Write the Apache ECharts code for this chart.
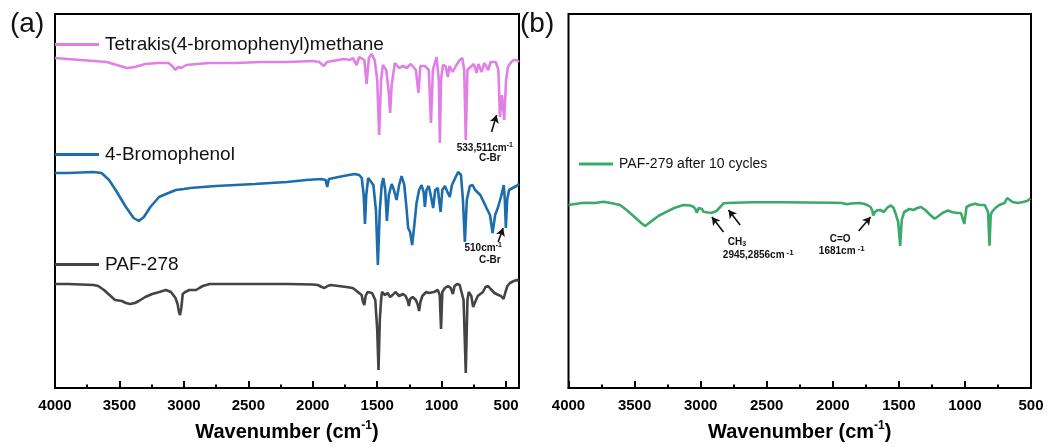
<!DOCTYPE html>
<html>
<head>
<meta charset="utf-8">
<script src="https://cdn.jsdelivr.net/npm/echarts@6/dist/echarts.min.js"></script>
<style>
html,body{margin:0;padding:0;background:#fff;}
#chart{width:1048px;height:447px;}
</style>
</head>
<body>
<div id="chart"></div>
<script>
// ---- data: [wavenumber (cm-1), transmittance (a.u., offset)] ----
const tetrakis = [[4000,330],[3900,329],[3800,328],[3700,327],[3600,326],[3520,323],[3442,320],[3380,321],[3300,324],[3200,325],[3120,325],[3090,322],[3067,318],[3045,321],[3020,320],[2980,323],[2900,324],[2800,325],[2600,325],[2400,326],[2200,326],[2000,327],[1950,326],[1914,322],[1890,326],[1850,327],[1800,328],[1760,329],[1712,328],[1690,330],[1660,323],[1640,331],[1600,328],[1582,304],[1565,330],[1543,334],[1520,328],[1500,308],[1485,253],[1470,308],[1456,323],[1430,318],[1412,298],[1400,275],[1388,303],[1363,325],[1330,320],[1300,322],[1270,320],[1240,324],[1200,318],[1180,295],[1165,322],[1130,322],[1100,318],[1083,265],[1068,318],[1040,331],[1030,333],[1022,308],[1014,245],[1005,308],[990,323],[970,322],[952,311],[940,322],[915,316],[890,322],[860,328],[840,330],[825,318],[813,248],[800,318],[776,321],[750,324],[729,315],[715,324],[690,316],[670,325],[639,318],[620,326],[580,326],[560,318],[548,271],[532,293],[515,268],[500,308],[486,321],[460,326],[440,328],[420,328],[400,326]];
const bromophenol = [[4000,215],[3900,215],[3800,215.5],[3700,216],[3639,215],[3580,208],[3520,196],[3450,181],[3390,170],[3350,167],[3310,171],[3260,181],[3193,191],[3120,195],[3062,198],[3000,199],[2950,200],[2853,201],[2750,202],[2600,203],[2450,204],[2328,205],[2200,206],[2050,208],[1935,209],[1900,208],[1888,201],[1875,209],[1800,211],[1720,213],[1673,214],[1640,213],[1620,210],[1605,193],[1595,164],[1585,193],[1570,210],[1555,212],[1530,203],[1510,178],[1495,123],[1480,178],[1465,203],[1453,210],[1438,198],[1425,167],[1410,193],[1388,204],[1370,198],[1350,188],[1330,203],[1311,212],[1290,203],[1275,183],[1260,160],[1245,156],[1229,143],[1212,163],[1195,185],[1175,198],[1156,203],[1140,196],[1130,181],[1118,198],[1100,202],[1085,193],[1066,180],[1050,198],[1030,200],[1020,188],[1008,176],[995,198],[975,202],[955,196],[937,191],[920,203],[895,210],[872,216],[850,213],[835,188],[820,146],[805,188],[781,202],[760,203],[740,198],[700,193],[652,180],[625,173],[605,155],[585,173],[562,181],[540,191],[518,203],[510,188],[502,160],[492,188],[477,198],[450,200],[420,202],[400,204]];
const paf278 = [[4000,104],[3900,104],[3800,103.5],[3700,103],[3665,102],[3620,98],[3586,94],[3534,88],[3481,87],[3450,85],[3416,84],[3380,85],[3350,87],[3300,91],[3246,94],[3190,96],[3140,98],[3100,96],[3088,94],[3065,90],[3049,84],[3038,76],[3030,73],[3020,80],[3009,94],[2990,96],[2957,98],[2905,98],[2880,100],[2853,102],[2800,104],[2600,104],[2400,104],[2200,104],[2000,103.5],[1961,103],[1930,101],[1909,100],[1885,102],[1860,103],[1800,102],[1740,101],[1690,100],[1650,96],[1621,93],[1610,86],[1600,83],[1590,92],[1575,96],[1540,95],[1515,88],[1500,58],[1490,18],[1480,68],[1470,88],[1463,96],[1440,93],[1420,95],[1400,91],[1380,93],[1359,96],[1330,92],[1300,94],[1280,92],[1265,88],[1254,82],[1245,89],[1225,91],[1200,88],[1185,83],[1175,77],[1165,86],[1150,92],[1120,96],[1100,95],[1060,96],[1030,98],[1015,93],[1005,59],[995,96],[975,100],[950,102],[930,100],[913,94],[900,102],[880,104],[860,103],[845,101],[830,88],[813,15],[800,88],[790,96],[770,92],[756,81],[740,86],[720,92],[700,94],[680,96],[660,101],[640,102],[620,99],[590,95],[560,93],[540,92],[520,89],[505,96],[490,102],[470,105],[440,107],[416,108],[400,107]];
const paf279 = [[4000,183],[3950,184],[3900,185],[3862,185.3],[3800,185],[3736,186.3],[3680,185],[3610,183],[3560,178],[3500,171],[3450,165],[3420,162],[3380,166],[3320,172],[3256,176.3],[3200,180],[3130,183],[3080,182.5],[3055,181.3],[3040,179],[3029,175.3],[3015,180],[3004,181.3],[2990,179],[2979,176.3],[2945,175.5],[2915,175.3],[2880,177],[2865,178],[2845,182],[2827,184.7],[2751,185.3],[2600,185.7],[2400,185.7],[2200,185.5],[2000,185.3],[1930,185],[1893,183.7],[1860,184.5],[1800,185],[1766,184.3],[1740,183],[1714,181],[1700,177],[1694,172.5],[1681,176],[1664,177.6],[1640,178],[1613,176],[1590,180],[1561,182.6],[1540,180],[1524,174.2],[1505,166],[1490,142.2],[1478,168],[1460,176],[1420,179],[1390,178],[1360,180],[1332,181],[1300,178],[1270,174],[1230,169.2],[1200,172],[1170,175],[1128,177.6],[1100,176],[1060,175],[1030,175],[1015,174],[1005,164],[995,174],[988,181],[960,183],[924,184.3],[890,183],[850,183],[825,176],[814,142.2],[805,173],[796,176],[770,180],[740,183],[700,185],[680,190],[669,191.7],[660,188],[640,186],[600,185],[560,186],[530,187],[504,189.4],[500,189]];

const seriesNames = ['Tetrakis(4-bromophenyl)methane','4-Bromophenol','PAF-278','PAF-279 after 10 cycles'];
const majorTicksA = [500,1000,1500,2000,2500,3000,3500,4000];
const minorTicksA = [750,1250,1750,2250,2750,3250,3750];

// annotations (data coordinates)
const arrowsA = [[[613,256],[574,273]],[[562,146],[523,160]]];
const arrowsB = [[[2827,156],[2915,171]],[[2701,163],[2789,178]],[[1804,157],[1714,171]]];

const FONT = 'Liberation Sans, Arial, sans-serif';
const chart = echarts.init(document.getElementById('chart'), null, {renderer:'canvas'});

const annRich = {
  t:{fontSize:10,fontWeight:'bold',fontFamily:FONT,color:'#111',lineHeight:12},
  s:{fontSize:7,fontWeight:'bold',fontFamily:FONT,color:'#111',verticalAlign:'top',lineHeight:8}
};
function mp(coord, text){
  return {coord:coord, symbol:'circle', symbolSize:0,
    label:{show:true, position:'inside', formatter:text, rich:annRich}};
}
function arrowLines(list){
  return {silent:true, symbol:['none','arrow'], symbolSize:[7,8], label:{show:false},
    lineStyle:{color:'#111', width:1.6, type:'solid'},
    emphasis:{disabled:true},
    data:list.map(p=>[{coord:p[0]},{coord:p[1]}])};
}

const axisNameRich = {
  b:{fontSize:20,fontWeight:'bold',fontFamily:FONT,color:'#000',lineHeight:24},
  s:{fontSize:12,fontWeight:'bold',fontFamily:FONT,color:'#000',verticalAlign:'top',lineHeight:12}
};
const labelStyle = {fontSize:15,fontWeight:'bold',fontFamily:FONT,color:'#000',margin:10,formatter:v=>String(v)};

function legendAt(name,left,top,size,w){
  return {data:[name], left:left, top:top, padding:0, icon:'rect', itemWidth:w, itemHeight:3,
    selectedMode:false, textStyle:{fontSize:size,fontFamily:FONT,color:'#111',padding:[0,0,0,1]}};
}

const option = {
  animation:false,
  title:[
    {text:'(a)', left:10, top:10, padding:0, textStyle:{fontSize:28,fontWeight:'normal',fontFamily:FONT,color:'#111'}},
    {text:'(b)', left:520, top:10, padding:0, textStyle:{fontSize:28,fontWeight:'normal',fontFamily:FONT,color:'#111'}}
  ],
  legend:[
    legendAt(seriesNames[0],55,35,19,44),
    legendAt(seriesNames[1],55,145,19,44),
    legendAt(seriesNames[2],55,255,19,44),
    legendAt(seriesNames[3],579,157,14,34)
  ],
  grid:[
    {left:55, right:529, top:14, bottom:59, show:true, borderColor:'#000', borderWidth:2},
    {left:568.5, right:17, top:14, bottom:59, show:true, borderColor:'#000', borderWidth:2}
  ],
  xAxis:[
    {type:'value', gridIndex:0, min:400, max:4000, inverse:true, position:'bottom',
     name:'{b|Wavenumber (cm}{s|-1}{b|)}', nameLocation:'middle', nameGap:32,
     nameTextStyle:{rich:axisNameRich},
     axisLine:{show:true,onZero:false,lineStyle:{color:'#000',width:2}},
     axisTick:{show:true,inside:true,length:7,customValues:majorTicksA,lineStyle:{color:'#000',width:2}},
     axisLabel:{...labelStyle, customValues:majorTicksA},
     splitLine:{show:false}},
    {type:'value', gridIndex:0, min:400, max:4000, inverse:true, position:'bottom',
     axisLine:{show:false,onZero:false},
     axisTick:{show:true,inside:true,length:3.5,customValues:minorTicksA,lineStyle:{color:'#000',width:2}},
     axisLabel:{show:false}, splitLine:{show:false}},
    {type:'value', gridIndex:1, min:500, max:4000, interval:500, inverse:true, position:'bottom',
     name:'{b|Wavenumber (cm}{s|-1}{b|)}', nameLocation:'middle', nameGap:32,
     nameTextStyle:{rich:axisNameRich},
     axisLine:{show:true,onZero:false,lineStyle:{color:'#000',width:2}},
     axisTick:{show:true,inside:true,length:7,lineStyle:{color:'#000',width:2}},
     minorTick:{show:true,splitNumber:2,length:3.5,lineStyle:{color:'#000',width:2}},
     axisLabel:{...labelStyle, showMinLabel:true, showMaxLabel:true},
     splitLine:{show:false}, minorSplitLine:{show:false}}
  ],
  yAxis:[
    {type:'value', gridIndex:0, min:0, max:374, show:false},
    {type:'value', gridIndex:1, min:0, max:374, show:false}
  ],
  series:[
    {name:seriesNames[0], type:'line', xAxisIndex:0, yAxisIndex:0, data:tetrakis, showSymbol:false,
     lineStyle:{color:'#E27FE6',width:2.6}, itemStyle:{color:'#E27FE6'},
     markLine:arrowLines([arrowsA[0]]),
     markPoint:{silent:true, data:[mp([665,240],'{t|533,511cm}{s|-1}'), mp([626,230],'{t|C-Br}')]}},
    {name:seriesNames[1], type:'line', xAxisIndex:0, yAxisIndex:0, data:bromophenol, showSymbol:false,
     lineStyle:{color:'#1B6DAC',width:2.6}, itemStyle:{color:'#1B6DAC'},
     markLine:arrowLines([arrowsA[1]]),
     markPoint:{silent:true, data:[mp([678,140],'{t|510cm}{s|-1}'), mp([626,128],'{t|C-Br}')]}},
    {name:seriesNames[2], type:'line', xAxisIndex:0, yAxisIndex:0, data:paf278, showSymbol:false,
     lineStyle:{color:'#444444',width:2.6}, itemStyle:{color:'#444444'}},
    {name:seriesNames[3], type:'line', xAxisIndex:2, yAxisIndex:1, data:paf279, showSymbol:false,
     lineStyle:{color:'#3AA96A',width:2.6}, itemStyle:{color:'#3AA96A'},
     markLine:arrowLines(arrowsB),
     markPoint:{silent:true, data:[
       mp([2726,146],'{t|CH}{u|3}'),
       mp([2564,133],'{t|2945,2856cm}{v|-1}'),
       mp([1944,149],'{t|C=O}'),
       mp([1932,137],'{t|1681cm}{v|-1}')
     ], label:{rich:{...annRich,
        u:{fontSize:7,fontWeight:'bold',fontFamily:FONT,color:'#111',verticalAlign:'bottom',lineHeight:8},
        v:{fontSize:8,fontWeight:'bold',fontFamily:FONT,color:'#111',verticalAlign:'top',lineHeight:8,padding:[0,0,10,2]}}}}}
  ]
};
chart.setOption(option);
</script>
</body>
</html>
